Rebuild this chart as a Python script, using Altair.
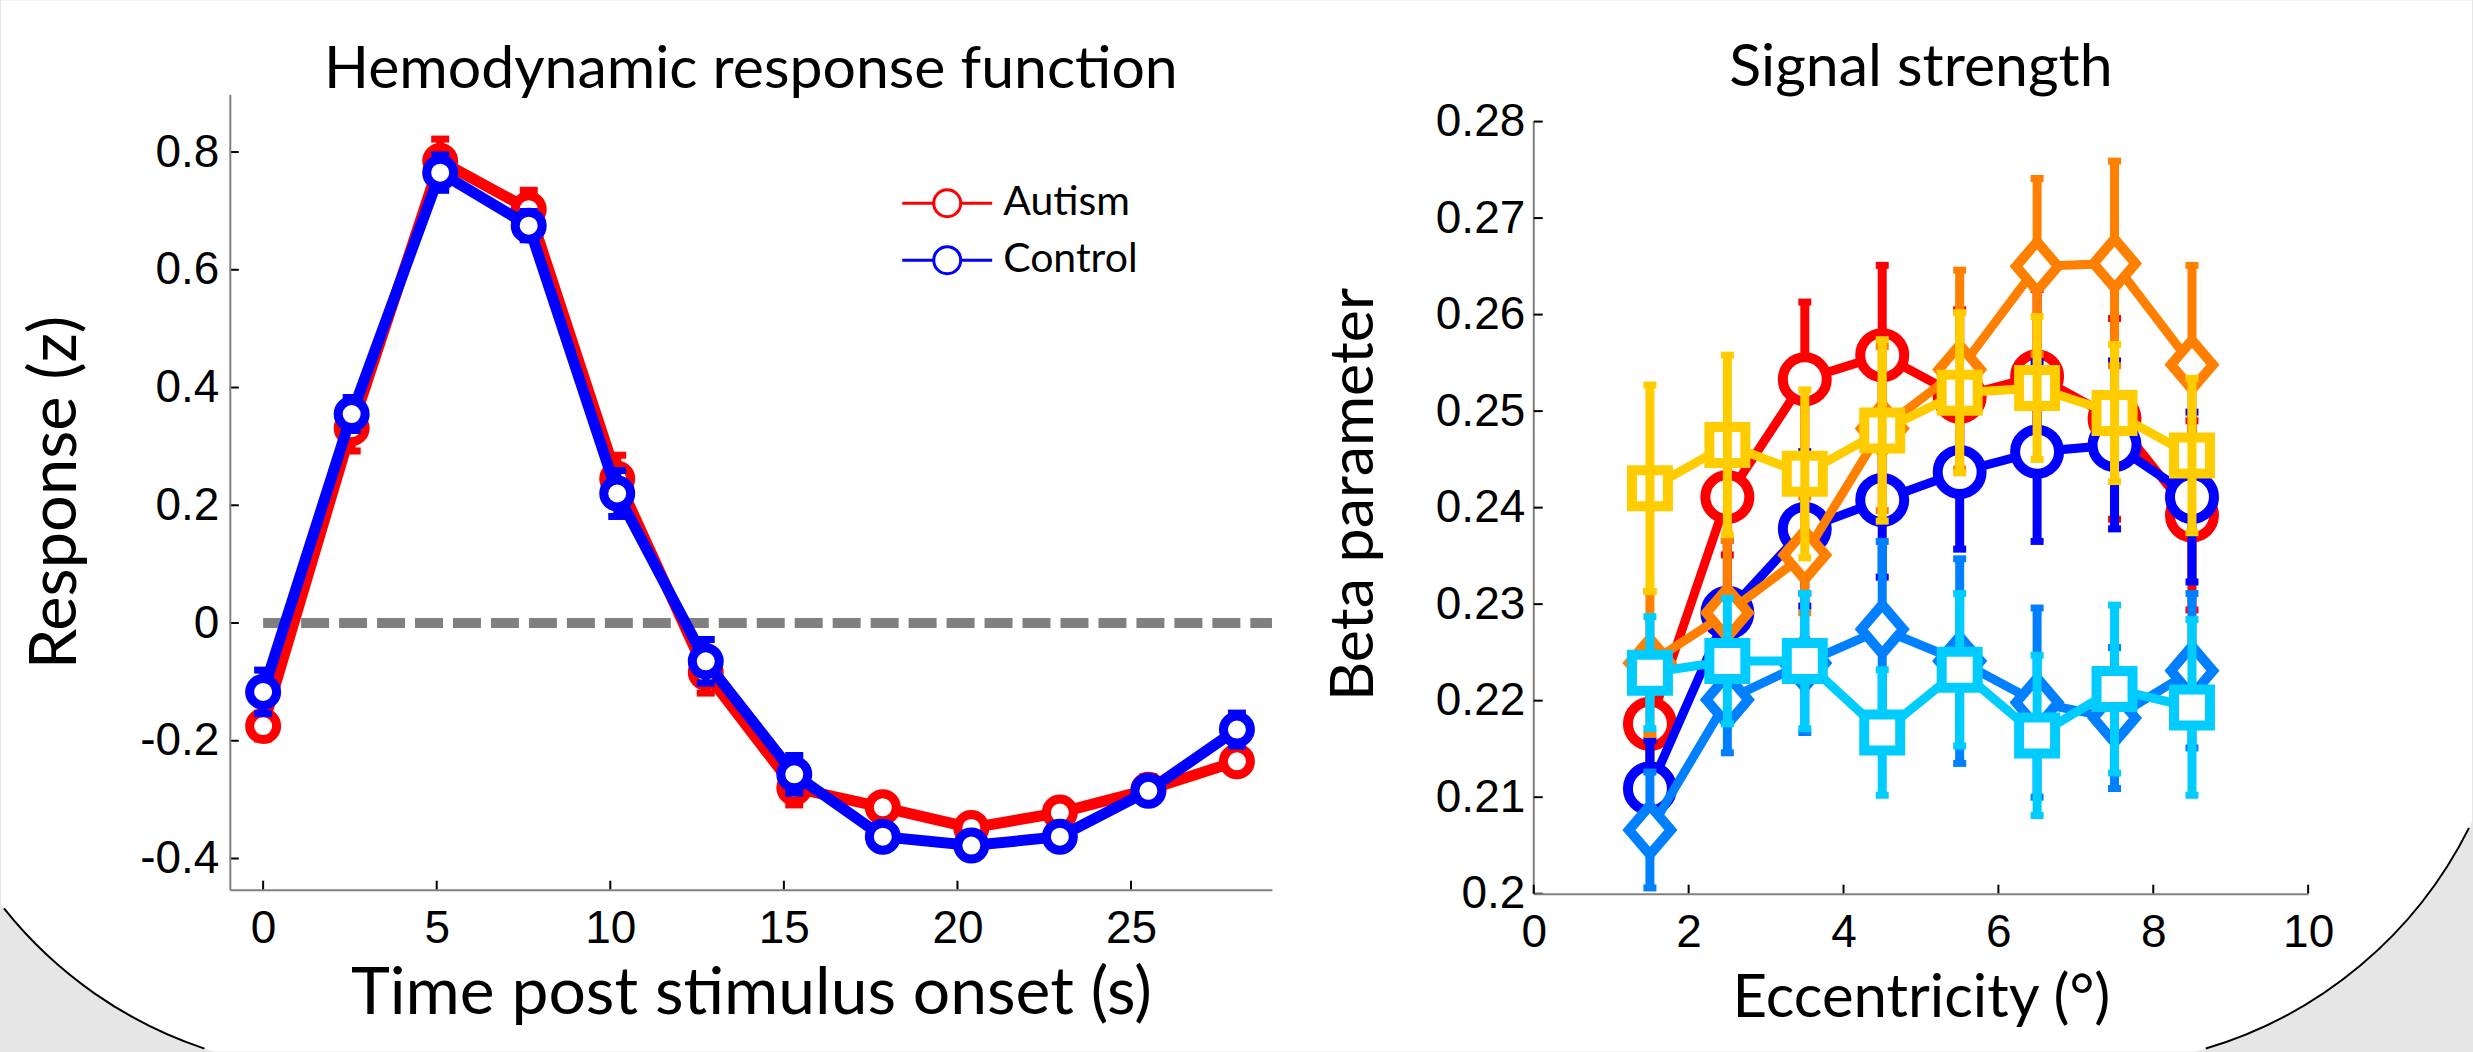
import math
import altair as alt
import pandas as pd

# ---------------- Hemodynamic response function (left panel) ----------------
time_s = [0.0, 2.55, 5.1, 7.65, 10.2, 12.75, 15.3, 17.85, 20.4, 22.95, 25.5, 28.05]
autism_response = [-0.175, 0.331, 0.785, 0.703, 0.245, -0.084, -0.280, -0.313, -0.348, -0.322, -0.283, -0.235]
autism_sem = [0.022, 0.039, 0.037, 0.032, 0.040, 0.035, 0.029, 0.015, 0.015, 0.015, 0.022, 0.015]
control_response = [-0.117, 0.355, 0.765, 0.675, 0.220, -0.065, -0.257, -0.363, -0.378, -0.363, -0.285, -0.181]
control_sem = [0.037, 0.028, 0.030, 0.024, 0.039, 0.037, 0.032, 0.020, 0.015, 0.015, 0.020, 0.028]
hrf_groups = ["Autism", "Control"]
hrf_colors = ["#ff0000", "#0000ff"]
hrf_x_ticks = [0, 5, 10, 15, 20, 25]
hrf_y_ticks = [-0.4, -0.2, 0, 0.2, 0.4, 0.6, 0.8]
hrf_x_domain = [-0.96, 29.06]
hrf_y_domain = [-0.453, 0.898]

# ---------------- Signal strength (right panel) ----------------
eccentricity = [1.5, 2.5, 3.5, 4.5, 5.5, 6.5, 7.5, 8.5]
beta_series = ["Autism V1", "Control V1", "Autism V2", "Control V2", "Autism V3", "Control V3"]
beta_colors = ["#ff0000", "#0000ff", "#ff8000", "#0080ff", "#ffcc00", "#00ccff"]
beta_shapes = ["circle", "circle", "diamond", "diamond", "square", "square"]
beta_autism_v1 = [0.2176, 0.2411, 0.2533, 0.2558, 0.2515, 0.2536, 0.2492, 0.2392]
beta_control_v1 = [0.2109, 0.2291, 0.2378, 0.2408, 0.2437, 0.2458, 0.2465, 0.2411]
beta_autism_v2 = [0.2239, 0.2291, 0.2351, 0.2482, 0.2543, 0.2650, 0.2653, 0.2548]
beta_control_v2 = [0.2066, 0.2201, 0.2239, 0.2274, 0.2241, 0.2198, 0.2182, 0.2231]
beta_autism_v3 = [0.2420, 0.2465, 0.2435, 0.2480, 0.2519, 0.2524, 0.2498, 0.2454]
beta_control_v3 = [0.2229, 0.2241, 0.2241, 0.2167, 0.2232, 0.2164, 0.2212, 0.2193]
sem_autism_v1 = [0.0065, 0.0060, 0.0080, 0.0093, 0.0090, 0.0090, 0.0104, 0.0098]
sem_control_v1 = [0.0050, 0.0075, 0.0080, 0.0080, 0.0080, 0.0093, 0.0087, 0.0088]
sem_autism_v2 = [0.0074, 0.0075, 0.0060, 0.0085, 0.0103, 0.0091, 0.0106, 0.0103]
sem_control_v2 = [0.0060, 0.0055, 0.0072, 0.0091, 0.0106, 0.0098, 0.0073, 0.0080]
sem_autism_v3 = [0.0107, 0.0093, 0.0087, 0.0094, 0.0083, 0.0074, 0.0071, 0.0080]
sem_control_v3 = [0.0058, 0.0065, 0.0070, 0.0065, 0.0079, 0.0083, 0.0087, 0.0091]
beta_values = [beta_autism_v1, beta_control_v1, beta_autism_v2, beta_control_v2, beta_autism_v3, beta_control_v3]
beta_sems = [sem_autism_v1, sem_control_v1, sem_autism_v2, sem_control_v2, sem_autism_v3, sem_control_v3]
ecc_ticks = [0, 2, 4, 6, 8, 10]
beta_ticks = [0.2, 0.21, 0.22, 0.23, 0.24, 0.25, 0.26, 0.27, 0.28]
ecc_domain = [0, 10]
beta_domain = [0.2, 0.28282]

# ---------------- layout (pixels) ----------------
CANVAS_W, CANVAS_H = 2473, 1052
ORIGIN_X, ORIGIN_Y = 229, 94
W_L, H_L = 1043, 796
W_R, H_R = 775, 800
GAP = 262
DECOR_H = 1

TITLE_FONT = "Lato"
TICK_FONT = "Liberation Sans"

# ---------------- background decoration (rounded slide frame in the bottom corners) ----
def circle_center(p, q, r, toward):
    mx, my = (p[0] + q[0]) / 2, (p[1] + q[1]) / 2
    dx, dy = q[0] - p[0], q[1] - p[1]
    L = math.hypot(dx, dy)
    h = math.sqrt(max(r * r - (L / 2) ** 2, 0))
    nx, ny = -dy / L, dx / L
    c1 = (mx + h * nx, my + h * ny)
    c2 = (mx - h * nx, my - h * ny)
    d1 = math.hypot(c1[0] - toward[0], c1[1] - toward[1])
    d2 = math.hypot(c2[0] - toward[0], c2[1] - toward[1])
    return c1 if d1 < d2 else c2

R_ARC_L, R_ARC_R = 430, 432
left_edge_pt, left_bottom_pt = (0, 905), (213, CANVAS_H)
right_edge_pt, right_bottom_pt = (CANVAS_W, 822), (2196, CANVAS_H)
mid = (CANVAS_W / 2, CANVAS_H / 2)
cl = circle_center(left_edge_pt, left_bottom_pt, R_ARC_L, mid)
cr = circle_center(right_edge_pt, right_bottom_pt, R_ARC_R, mid)

fill_path = (
    f"M0,0L{CANVAS_W},0L{CANVAS_W},{right_edge_pt[1]}"
    f"A{R_ARC_R},{R_ARC_R} 0 0,1 {right_bottom_pt[0]},{CANVAS_H}"
    f"L{left_bottom_pt[0]},{CANVAS_H}"
    f"A{R_ARC_L},{R_ARC_L} 0 0,1 0,{left_edge_pt[1]}Z"
)
ins = 3
yl = cl[1] + math.sqrt(R_ARC_L ** 2 - (ins - cl[0]) ** 2)
xl = cl[0] - math.sqrt(R_ARC_L ** 2 - (CANVAS_H - ins - cl[1]) ** 2)
yr = cr[1] + math.sqrt(R_ARC_R ** 2 - (CANVAS_W - ins - cr[0]) ** 2)
xr = cr[0] + math.sqrt(R_ARC_R ** 2 - (CANVAS_H - ins - cr[1]) ** 2)
line_path = (
    f"M{CANVAS_W - ins},{yr:.1f}A{R_ARC_R},{R_ARC_R} 0 0,1 {xr:.1f},{CANVAS_H - ins}"
    f"M{xl:.1f},{CANVAS_H - ins}A{R_ARC_L},{R_ARC_L} 0 0,1 {ins},{yl:.1f}"
)
one_row = pd.DataFrame({"k": [0]})

decor_fill = alt.Chart(one_row).mark_point(
    shape=fill_path, size=4, filled=True, fill="white", strokeOpacity=0, opacity=1
).encode(x=alt.value(-ORIGIN_X), y=alt.value(-(ORIGIN_Y - DECOR_H)))
decor_line = alt.Chart(one_row).mark_point(
    shape=line_path, size=4, filled=False, stroke="black", strokeWidth=2, fillOpacity=0, opacity=1
).encode(x=alt.value(-ORIGIN_X), y=alt.value(-(ORIGIN_Y - DECOR_H)))
decor = alt.layer(decor_fill, decor_line).properties(width=1, height=DECOR_H)

# ---------------- axes ----------------
common_axis = dict(
    grid=False, ticks=False, tickSize=0, domainColor="#808080", domainWidth=2,
    labelFont=TICK_FONT, labelFontSize=46, labelColor="black",
    titleFont=TITLE_FONT, titleFontWeight="normal", titleColor="black",
    labelFlush=False, labelOverlap=False, zindex=1,
)
hrf_x_axis = alt.Axis(values=hrf_x_ticks, title="Time post stimulus onset (s)", titleFontSize=66,
                      labelPadding=17, titlePadding=10, **common_axis)
hrf_y_axis = alt.Axis(values=hrf_y_ticks, title="Response (z)", titleFontSize=65, labelPadding=11,
                      titlePadding=50,
                      labelExpr="datum.value == 0 ? '0' : replace(format(datum.value, '.1f'), '\u2212', '-')",
                      **common_axis)
ecc_axis = alt.Axis(values=ecc_ticks, title="Eccentricity (°)", titleFontSize=60, labelPadding=17,
                    titlePadding=14, **common_axis)
beta_axis_common = dict(common_axis)
beta_axis_common["domain"] = False
beta_axis = alt.Axis(values=beta_ticks, title="Beta parameter", titleFontSize=61, labelPadding=9,
                     titlePadding=50, labelExpr="toString(datum.value)", **beta_axis_common)


def hrf_x(f):
    return alt.X(f"{f}:Q", scale=alt.Scale(domain=hrf_x_domain, nice=False, zero=False), axis=hrf_x_axis)


def hrf_y(f):
    return alt.Y(f"{f}:Q", scale=alt.Scale(domain=hrf_y_domain, nice=False, zero=False), axis=hrf_y_axis)


def ecc_x(f):
    return alt.X(f"{f}:Q", scale=alt.Scale(domain=ecc_domain, nice=False, zero=False), axis=ecc_axis)


def beta_y(f):
    return alt.Y(f"{f}:Q", scale=alt.Scale(domain=beta_domain, nice=False, zero=False), axis=beta_axis)


# ---------------- left panel ----------------
legend_path = "M-2,0H-0.6M0.6,0H2M0.6,0A0.6,0.6 0 1,1 -0.6,0A0.6,0.6 0 1,1 0.6,0"
hrf_legend = alt.Legend(
    orient="none", legendX=694, legendY=86, title=None, symbolType=legend_path, symbolSize=2025,
    symbolStrokeWidth=3, symbolFillColor="white", labelFont=TITLE_FONT, labelFontSize=41,
    labelColor="black", labelOffset=32, rowPadding=13, padding=0, zindex=1, symbolOpacity=1,
)
hrf_color = alt.Color("group:N", scale=alt.Scale(domain=hrf_groups, range=hrf_colors), legend=hrf_legend)

zero_df = pd.DataFrame({"x": [0.0], "x2": [hrf_x_domain[1]], "y": [0.0]})
zero_line = alt.Chart(zero_df).mark_rule(color="#808080", strokeWidth=10, strokeDash=[28, 10]).encode(
    x=hrf_x("x"), x2="x2", y=hrf_y("y"))

hrf_yt = alt.Chart(pd.DataFrame({"v": hrf_y_ticks})).mark_tick(
    orient="horizontal", size=9, thickness=2, color="black", opacity=1, xOffset=4.5
).encode(x=alt.value(0), y=hrf_y("v"))
hrf_xt = alt.Chart(pd.DataFrame({"v": hrf_x_ticks})).mark_tick(
    orient="vertical", size=9, thickness=2, color="black", opacity=1, yOffset=-4.5
).encode(x=hrf_x("v"), y=alt.value(H_L))

left_layers = [zero_line, hrf_yt, hrf_xt]
for name, col, vals, sems in [("Autism", hrf_colors[0], autism_response, autism_sem),
                              ("Control", hrf_colors[1], control_response, control_sem)]:
    df = pd.DataFrame({
        "t": time_s, "resp": vals,
        "lo": [v - s for v, s in zip(vals, sems)],
        "hi": [v + s for v, s in zip(vals, sems)],
        "group": name,
    })
    base = alt.Chart(df)
    left_layers += [
        base.mark_rule(strokeWidth=8, color=col).encode(x=hrf_x("t"), y=hrf_y("lo"), y2="hi"),
        base.mark_tick(orient="horizontal", size=18, thickness=7, opacity=1, color=col).encode(
            x=hrf_x("t"), y=hrf_y("lo")),
        base.mark_tick(orient="horizontal", size=18, thickness=7, opacity=1, color=col).encode(
            x=hrf_x("t"), y=hrf_y("hi")),
        base.mark_line(strokeWidth=11).encode(x=hrf_x("t"), y=hrf_y("resp"), color=hrf_color),
        base.mark_point(shape="circle", size=729, filled=False, fill="white", fillOpacity=1,
                        strokeWidth=9, opacity=1).encode(x=hrf_x("t"), y=hrf_y("resp"), color=hrf_color),
    ]

left = alt.layer(*left_layers).properties(
    width=W_L, height=H_L,
    title=alt.TitleParams("Hemodynamic response function", font=TITLE_FONT, fontSize=59,
                          fontWeight="normal", color="black", offset=-53, baseline="alphabetic",
                          anchor="middle", frame="group", zindex=1),
)

# ---------------- right panel ----------------
diamond_path = "M0,-1.17L1,0L0,1.17L-1,0Z"
shape_map = {"circle": ("circle", 1936), "diamond": (diamond_path, 1764), "square": ("square", 1296)}

axis_rule_df = pd.DataFrame({"y": [beta_ticks[0]], "y2": [beta_ticks[-1]]})
beta_axis_line = alt.Chart(axis_rule_df).mark_rule(color="#808080", strokeWidth=2).encode(
    x=alt.value(0), y=beta_y("y"), y2="y2")
beta_yt = alt.Chart(pd.DataFrame({"v": beta_ticks})).mark_tick(
    orient="horizontal", size=9, thickness=2, color="black", opacity=1, xOffset=4.5
).encode(x=alt.value(0), y=beta_y("v"))
ecc_xt = alt.Chart(pd.DataFrame({"v": ecc_ticks})).mark_tick(
    orient="vertical", size=9, thickness=2, color="black", opacity=1, yOffset=-4.5
).encode(x=ecc_x("v"), y=alt.value(H_R))

right_layers = [beta_axis_line, beta_yt, ecc_xt]
for name, color, shp, vals, sems in zip(beta_series, beta_colors, beta_shapes, beta_values, beta_sems):
    df = pd.DataFrame({
        "e": eccentricity, "b": vals,
        "lo": [v - s for v, s in zip(vals, sems)],
        "hi": [v + s for v, s in zip(vals, sems)],
        "series": name,
    })
    base = alt.Chart(df)
    bars = [
        base.mark_rule(color=color, strokeWidth=9).encode(x=ecc_x("e"), y=beta_y("lo"), y2="hi"),
        base.mark_tick(orient="horizontal", size=13, thickness=7, color=color, opacity=1).encode(
            x=ecc_x("e"), y=beta_y("lo")),
        base.mark_tick(orient="horizontal", size=13, thickness=7, color=color, opacity=1).encode(
            x=ecc_x("e"), y=beta_y("hi")),
    ]
    line = base.mark_line(color=color, strokeWidth=9).encode(x=ecc_x("e"), y=beta_y("b"))
    sh, sz = shape_map[shp]
    pts = base.mark_point(shape=sh, size=sz, filled=False, fill="white", fillOpacity=1, stroke=color,
                          strokeWidth=10, opacity=1).encode(x=ecc_x("e"), y=beta_y("b"))
    if name == "Autism V3":
        right_layers += [line, pts] + bars
    else:
        right_layers += bars + [line, pts]

right = alt.layer(*right_layers).properties(
    width=W_R, height=H_R,
    title=alt.TitleParams("Signal strength", font=TITLE_FONT, fontSize=59, fontWeight="normal",
                          color="black", offset=-51, baseline="alphabetic", anchor="middle",
                          frame="group", zindex=1),
)

panels = alt.hconcat(left, right, spacing=GAP, bounds="flush")
chart = alt.vconcat(decor, panels, spacing=0, bounds="flush").properties(
    background="#e6e6e6", padding=0
).configure_view(stroke=None)

chart.save("out.html", embed_options={"renderer": "svg", "actions": False})
